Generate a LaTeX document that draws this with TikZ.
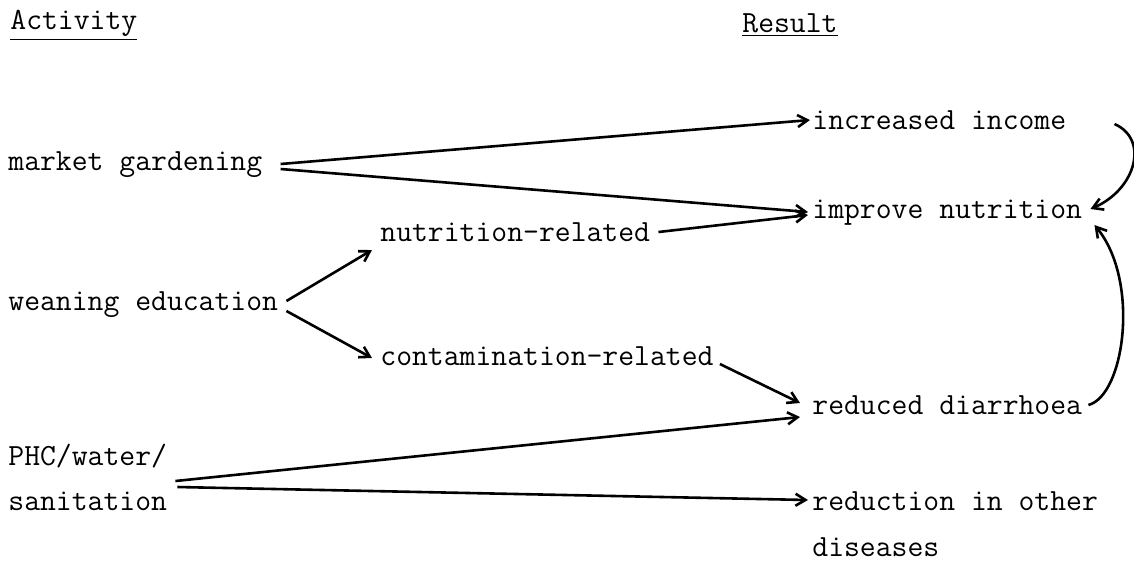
\documentclass[tikz,border=0pt]{standalone}
\usepackage{fontspec}
\usetikzlibrary{arrows.meta,positioning}
\tikzset{
    heading/.style = {inner sep=0pt, anchor=west, font=\ttfamily\fontsize{15.4}{16}\selectfont},
    activity/.style = {inner sep=0pt, anchor=west, align=left, font=\ttfamily\fontsize{15.4}{22.5}\selectfont},
    outcome/.style = {inner sep=0pt, anchor=west, align=left, font=\ttfamily\fontsize{15.4}{23}\selectfont},
    link/.style = {-{Straight Barb[length=5pt,width=6pt]}, line width=1.3pt}
}
\begin{document}
\begin{tikzpicture}[x=0.5pt, y=-0.5pt]
    \useasboundingbox (0,0) rectangle (1134,564);

    % Headings
    \node [heading] (acthead) at (10,25) {\underline{Activity}};
    \node [heading] (reshead) at (742,25) {\underline{Result}};

    % Activities
    \node [activity] (market) at (8,165) {market gardening};
    \node [activity] (weaning) at (8,305) {weaning education};
    \node [activity] (phc) at (8,477) {PHC/water/\\sanitation};

    % Intermediate
    \node [activity] (nutrel) at (380,232) {nutrition-related};
    \node [activity] (contrel) at (380,356) {contamination-related};

    % Results
    \node [outcome] (income) at (812,120) {increased income};
    \node [outcome] (nutrition) at (812,213) {improve nutrition};
    \node [outcome] (diarrhoea) at (812,405) {reduced diarrhoea};
    \node [outcome] (other) at (812,524) {reduction in other\\diseases};

    % Links
    \draw [link] ([xshift=9pt,yshift=0.5pt]market.east) -- ([xshift=-1pt]income.west);
    \draw [link] ([xshift=9pt,yshift=-2pt]market.east) -- ([xshift=-2pt,yshift=0.5pt]nutrition.west);
    \draw [link] ([xshift=4pt]nutrel.east) -- ([xshift=-2pt,yshift=-1pt]nutrition.west);
    \draw [link] ([xshift=4pt,yshift=2pt]weaning.east) -- ([xshift=-4pt,yshift=-9pt]nutrel.west);
    \draw [link] ([xshift=4pt,yshift=-3pt]weaning.east) -- ([xshift=-4pt,yshift=-1pt]contrel.west);
    \draw [link] ([xshift=3pt,yshift=-4pt]contrel.east) -- ([xshift=-6pt,yshift=1pt]diarrhoea.west);
    \draw [link] ([xshift=4pt,yshift=-2pt]phc.east) -- ([xshift=-6pt,yshift=-6pt]diarrhoea.west);
    \draw [link] ([xshift=5pt,yshift=-5pt]phc.east) -- ([xshift=-2pt,yshift=12pt]other.west);

    % Feedback curves
    \draw [link] ([xshift=24pt,yshift=-2pt]income.east) .. controls (1150,140) and (1135,190) .. ([xshift=4pt,yshift=2pt]nutrition.east);
    \draw [link] ([xshift=3pt]diarrhoea.east) .. controls (1125,395) and (1140,280) .. ([xshift=6pt,yshift=-6pt]nutrition.east);
\end{tikzpicture}
\end{document}
